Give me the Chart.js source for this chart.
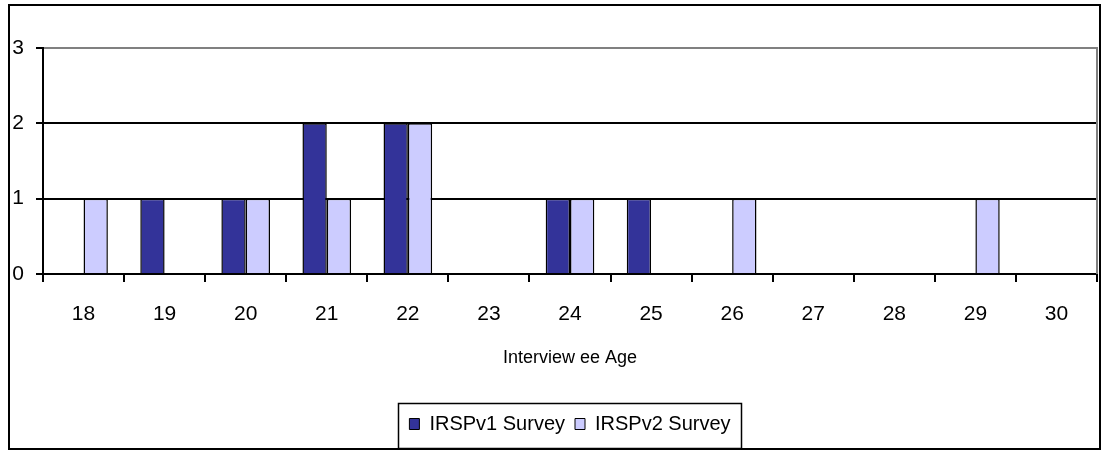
<!DOCTYPE html>
<html>
<head>
<meta charset="utf-8">
<script src="https://cdn.jsdelivr.net/npm/chart.js@4/dist/chart.umd.min.js"></script>
<style>
  html, body { margin: 0; padding: 0; background: #fff; }
  #wrap { width: 1101px; height: 450px; position: relative; }
</style>
</head>
<body>
<div id="wrap"><canvas id="c" width="1101" height="450"></canvas></div>
<script>
// Interviewee ages and number of respondents per survey
const ages = ['18', '19', '20', '21', '22', '23', '24', '25', '26', '27', '28', '29', '30'];
const irspV1 = [0, 1, 1, 2, 2, 0, 1, 1, 0, 0, 0, 0, 0];
const irspV2 = [1, 0, 1, 1, 2, 0, 1, 0, 1, 0, 0, 1, 0];
const seriesNames = ['IRSPv1 Survey', 'IRSPv2 Survey'];
const yTicks = [0, 1, 2, 3];
const xTitle = 'Interview ee Age';

const FONT = '"Liberation Sans Narrow", "Liberation Sans", Arial, sans-serif';

// Frame around the whole chart, right edge of the plot, and the legend box
const framePlugin = {
  id: 'frame',
  afterDraw(chart) {
    const ctx = chart.ctx;
    const a = chart.chartArea;
    ctx.save();
    // plot right edge
    ctx.strokeStyle = '#808080';
    ctx.lineWidth = 2;
    ctx.beginPath();
    ctx.moveTo(a.right, a.top - 1);
    ctx.lineTo(a.right, a.bottom);
    ctx.stroke();
    // legend box
    const lg = chart.legend;
    if (lg && lg.legendHitBoxes && lg.legendHitBoxes.length) {
      const boxes = lg.legendHitBoxes;
      const l = Math.min(...boxes.map(b => b.left)) - 11;
      const r = Math.max(...boxes.map(b => b.left + b.width)) + 11;
      ctx.strokeStyle = '#000';
      ctx.lineWidth = 1.5;
      ctx.strokeRect(Math.round(l) + 0.5, 403.5, Math.round(r - l), 45);
    }
    // outer frame
    ctx.strokeStyle = '#000';
    ctx.lineWidth = 2;
    ctx.strokeRect(9, 5, 1091, 444);
    ctx.restore();
  }
};

new Chart(document.getElementById('c'), {
  type: 'bar',
  data: {
    labels: ages,
    datasets: [
      {
        label: seriesNames[0],
        data: irspV1,
        backgroundColor: '#333399',
        borderColor: '#000',
        borderWidth: 1.5,
        borderSkipped: 'bottom'
      },
      {
        label: seriesNames[1],
        data: irspV2,
        backgroundColor: '#CCCCFF',
        borderColor: '#000',
        borderWidth: 1.5,
        borderSkipped: 'bottom'
      }
    ]
  },
  options: {
    responsive: false,
    animation: false,
    events: [],
    layout: { padding: { top: 48, right: 4, left: 0, bottom: 6 } },
    datasets: { bar: { categoryPercentage: 0.6, barPercentage: 1.0 } },
    scales: {
      x: {
        afterFit(scale) { scale.height = 130; },
        grid: {
          drawOnChartArea: false,
          drawTicks: true,
          tickLength: 8,
          color: '#000',
          lineWidth: 2
        },
        border: { color: '#000', width: 2 },
        ticks: {
          color: '#000',
          padding: 20,
          font: { family: FONT, size: 21 }
        },
        title: {
          display: true,
          text: xTitle,
          color: '#000',
          font: { family: FONT, size: 18 },
          padding: { top: 0, bottom: 35 }
        }
      },
      y: {
        min: yTicks[0],
        max: yTicks[yTicks.length - 1],
        afterFit(scale) { scale.width = 43; },
        afterBuildTicks(scale) { scale.ticks = yTicks.map(v => ({ value: v })); },
        grid: {
          color: ctx => (ctx.tick && ctx.tick.value === 3 ? '#808080' : '#000'),
          tickColor: '#000',
          lineWidth: 2,
          tickLength: 7
        },
        border: { color: '#000', width: 2 },
        ticks: {
          color: '#000',
          padding: 12,
          font: { family: FONT, size: 21 }
        }
      }
    },
    plugins: {
      title: { display: false },
      tooltip: { enabled: false },
      legend: {
        position: 'bottom',
        fullSize: false,
        labels: {
          color: '#000',
          boxWidth: 10,
          boxHeight: 11,
          padding: 10,
          font: { family: FONT, size: 20 },
          generateLabels(chart) {
            return chart.data.datasets.map((ds, i) => ({
              text: ds.label,
              fillStyle: ds.backgroundColor,
              strokeStyle: '#000',
              lineWidth: 1,
              datasetIndex: i,
              fontColor: '#000'
            }));
          }
        }
      }
    }
  },
  plugins: [framePlugin]
});
</script>
</body>
</html>
